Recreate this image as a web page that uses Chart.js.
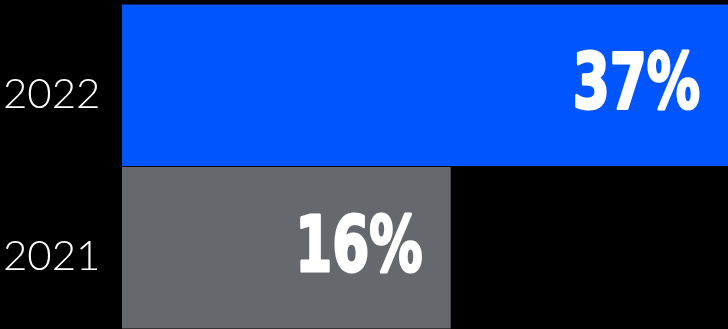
<!DOCTYPE html>
<html>
<head>
<meta charset="utf-8">
<script src="https://cdn.jsdelivr.net/npm/chart.js@4.4.0/dist/chart.umd.min.js"></script>
<style>
  html, body { margin: 0; padding: 0; background: #000; }
  #wrap { width: 728px; height: 329px; }
</style>
</head>
<body>
<div id="wrap"><canvas id="barChart"></canvas></div>
<script>
const years = ['2022', '2021'];
const shares = [37, 16];
const barColors = ['#0055ff', '#65686d'];

// percentage written inside the end of each bar, in a squeezed heavy face
const barLabels = {
  id: 'barLabels',
  afterDatasetsDraw(chart) {
    const ctx = chart.ctx;
    const area = chart.chartArea;
    const meta = chart.getDatasetMeta(0);
    ctx.save();
    ctx.fillStyle = '#fff';
    ctx.strokeStyle = '#fff';
    ctx.lineWidth = 3;
    ctx.lineJoin = 'round';
    ctx.font = 'bold 76px "DejaVu Sans"';
    ctx.textAlign = 'right';
    ctx.textBaseline = 'middle';
    meta.data.forEach((bar, i) => {
      const right = Math.min(bar.x, area.right) - 28;
      ctx.save();
      ctx.translate(right, bar.y + 3);
      ctx.scale(0.7, 1);
      ctx.fillText(shares[i] + '%', 0, 0);
      ctx.strokeText(shares[i] + '%', 0, 0);
      ctx.restore();
    });
    ctx.restore();
  }
};

new Chart(document.getElementById('barChart'), {
  type: 'bar',
  data: {
    labels: years,
    datasets: [{
      data: shares,
      backgroundColor: barColors,
      borderWidth: 0,
      barPercentage: 0.994,
      categoryPercentage: 1
    }]
  },
  options: {
    indexAxis: 'y',
    responsive: true,
    maintainAspectRatio: false,
    animation: false,
    layout: { padding: { top: 4, left: 3, right: 0, bottom: 0 } },
    plugins: {
      legend: { display: false },
      tooltip: { enabled: false }
    },
    scales: {
      x: {
        display: false,
        min: 0,
        max: 29.5
      },
      y: {
        grid: { display: false },
        border: { display: false },
        afterFit(scale) {
          scale.width = 119;
          scale.paddingTop = 0;
          scale.paddingBottom = 0;
        },
        ticks: {
          color: '#fff',
          crossAlign: 'far',
          labelOffset: 9,
          font: { family: 'Lato', size: 42, weight: '300' }
        }
      }
    }
  },
  plugins: [barLabels]
});
</script>
</body>
</html>
